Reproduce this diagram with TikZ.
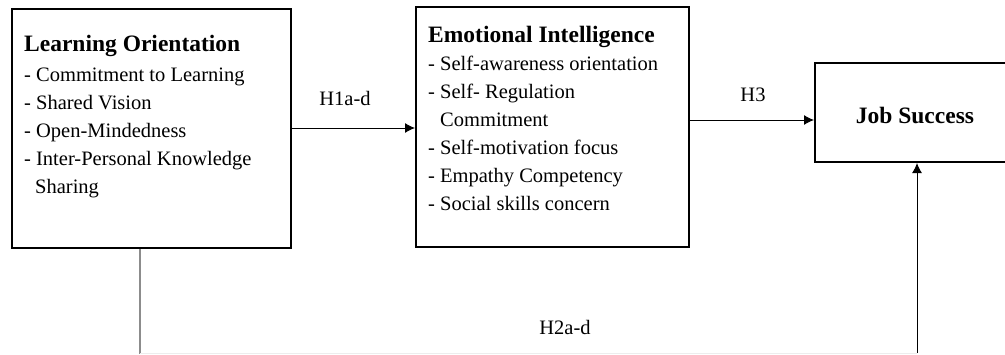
\documentclass[tikz,border=0pt]{standalone}
\usepackage{fontspec}
\setmainfont{Liberation Serif}
\usetikzlibrary{arrows.meta}
\begin{document}
\begin{tikzpicture}[x=1pt,y=-1pt,
  box/.style={draw=black,line width=2pt,rectangle,inner sep=0pt},
  body/.style={align=left,anchor=base west,inner sep=0pt,
    font=\fontsize{20.5}{28}\selectfont},
  head/.style={font=\fontsize{23.5}{28}\selectfont\bfseries},
  hyp/.style={font=\fontsize{20.5}{24}\selectfont,inner sep=0pt},
  arr/.style={line width=1pt,-{Latex[length=10pt,width=10pt]}}]
\useasboundingbox (0,0) rectangle (1005,354);
\clip (0,0) rectangle (1005,354);
% construct boxes
\node[box,minimum width=279pt,minimum height=239pt] (lo) at (151.5,128.5) {};
\node[box,minimum width=273pt,minimum height=240pt] (ei) at (552.5,127) {};
\node[box,minimum width=200pt,minimum height=99pt] (js) at (915,112.5) {};
% box contents (anchored at the baseline of the last line)
\node[body] (lotext) at (24,193) {{\fontsize{23.5}{28}\selectfont\bfseries Learning Orientation}\\[2pt]
- Commitment to Learning\\
- Shared Vision\\
- Open-Mindedness\\
- Inter-Personal Knowledge\\
\hspace*{11pt}Sharing};
\node[body] (eitext) at (428,210) {{\fontsize{23.5}{28}\selectfont\bfseries Emotional Intelligence}\\
- Self-awareness orientation\\
- Self- Regulation\\
\hspace*{12pt}Commitment\\
- Self-motivation focus\\
- Empathy Competency\\
- Social skills concern};
\node[head,inner sep=0pt] (jstext) at (915,115) {Job Success};
% hypothesis paths
\coordinate (h1) at (0,128);
\coordinate (h3) at (0,120);
\coordinate (c1) at (140,353);
\coordinate (c2) at (917,353);
\draw[arr] (lo.east |- h1) -- (ei.west |- h1);
\draw[arr] (ei.east |- h3) -- (js.west |- h3);
\draw[line width=1.2pt,black!45] (lo.south -| c1) -- (c1 |- 0,354);
\draw[line width=1pt,black!7] (c1) -- (c2);
\draw[arr] (c2) -- (c2 |- js.south);
\node[hyp] (l1) at (345,98) {H1a-d};
\node[hyp] (l3) at (753,95) {H3};
\node[hyp] (l2) at (565,327) {H2a-d};
\end{tikzpicture}
\end{document}
